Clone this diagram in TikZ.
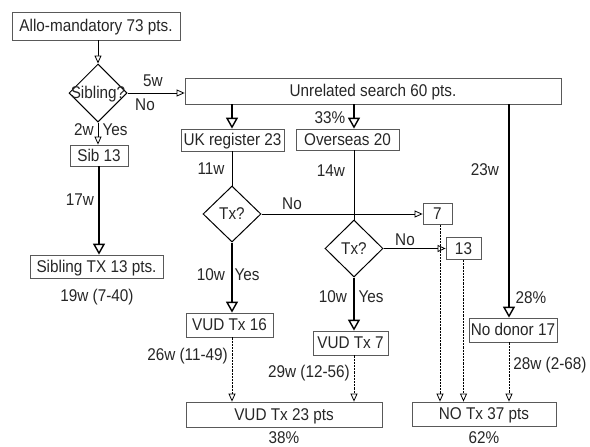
\documentclass[tikz,border=0pt]{standalone}
\usepackage{fontspec}
\setmainfont{Liberation Sans}[FakeStretch=0.9]
\usetikzlibrary{arrows.meta,shapes.geometric}
\begin{document}
\begin{tikzpicture}[x=1pt,y=-1pt,
  font=\fontsize{17}{18}\selectfont,
  every node/.style={text=black!85},
  box/.style={draw=black!65, line width=0.8pt, inner sep=0pt, text height=12pt, text depth=1pt},
  dia/.style={draw=black, line width=1pt, diamond, inner sep=0pt, aspect=1},
  lab/.style={inner sep=0pt, text height=12pt, text depth=1pt},
  thinar/.style={line width=0.9pt, -{Triangle[length=8pt,width=7pt,fill=white,line width=0.8pt]}},
  plainln/.style={line width=0.9pt},
  thickar/.style={line width=2.8pt, -{Triangle[length=11pt,width=12pt,fill=white,line width=1.4pt]}},
  dashar/.style={line width=0.8pt, dash pattern=on 2.2pt off 1pt, -{Triangle[length=8pt,width=7pt,fill=white,line width=0.8pt,sep=0pt]}}
]
\useasboundingbox (0,0) rectangle (590,447);
% boxes
\node[box, minimum width=168, minimum height=28] (allo) at (96,26) {Allo-mandatory 73 pts.};
\node[dia, minimum width=58, minimum height=58, label={[lab]center:Sibling?}] (sib) at (98,93) {};
\node[box, minimum width=376, minimum height=26] (unrel) at (373,91) {Unrelated search 60 pts.};
\node[box, minimum width=58, minimum height=21] (sib13) at (99,155.5) {Sib 13};
\node[box, minimum width=133, minimum height=23] (sibtx) at (96.5,266.5) {Sibling TX 13 pts.};
\node[box, minimum width=103, minimum height=22] (uk) at (232.5,140) {UK register 23};
\node[box, minimum width=103, minimum height=21] (over) at (347.5,139.5) {Overseas 20};
\node[dia, minimum width=58, minimum height=56, label={[lab]center:Tx?}] (tx1) at (232,214) {};
\node[dia, minimum width=58, minimum height=57, label={[lab]center:Tx?}] (tx2) at (354,248.5) {};
\node[box, minimum width=29, minimum height=21] (b7) at (437.5,214) {7};
\node[box, minimum width=35, minimum height=22] (b13) at (463.5,248.5) {13};
\node[box, minimum width=87, minimum height=24] (vud16) at (229.5,325) {VUD Tx 16};
\node[box, minimum width=75, minimum height=24] (vud7) at (350.5,343) {VUD Tx 7};
\node[box, minimum width=196, minimum height=25] (vud23) at (284,414.5) {VUD Tx 23 pts};
\node[box, minimum width=144, minimum height=24] (notx) at (484,414) {NO Tx 37 pts};
\node[box, minimum width=88, minimum height=24] (nod) at (513,330) {No donor 17};
\coordinate (cN) at (509,0);
% connectors
\draw[thinar] (allo.south -| sib.north) -- (sib.north);
\draw[thinar] (sib.east) -- (sib.east -| unrel.west);
\draw[thinar] (sib.south) -- (sib.south |- sib13.north);
\draw[thickar] (sib13.south) -- (sibtx.north -| sib13.south);
\draw[thickar] (unrel.south -| tx1.north) -- (uk.north -| tx1.north);
\draw[thickar] (unrel.south -| tx2.north) -- (over.north -| tx2.north);
\draw[plainln] (uk.south -| tx1.north) -- (tx1.north);
\draw[plainln] (over.south -| tx2.north) -- (tx2.north);
\draw[thinar] (tx1.east) -- (b7.west);
\draw[thinar] (tx2.east) -- (b13.west);
\draw[thickar] (tx1.south) -- (vud16.north -| tx1.south);
\draw[thickar] (tx2.south) -- (vud7.north -| tx2.south);
\draw[dashar] (vud16.south -| tx1.south) -- (vud23.north -| tx1.south);
\draw[dashar] (vud7.south -| tx2.south) -- (vud23.north -| tx2.south);
\draw[dashar] ([xshift=2.5pt]b7.south) -- ([xshift=2.5pt]b7.south |- notx.north);
\draw[dashar] (b13.south) -- (b13.south |- notx.north);
\draw[thickar] (unrel.south -| cN) -- (nod.north -| cN);
\draw[dashar] (nod.south -| cN) -- (notx.north -| cN);
% labels
\node[lab] (l5w) at (153,81) {5w};
\node[lab] (lno1) at (145,105) {No};
\node[lab] (l2w) at (84,130) {2w};
\node[lab] (lyes1) at (115,130) {Yes};
\node[lab] (l17w) at (80,200) {17w};
\node[lab] (l19w) at (97,296) {19w (7-40)};
\node[lab] (l33) at (330,118) {33\%};
\node[lab] (l11w) at (211,169) {11w};
\node[lab] (l14w) at (331,171) {14w};
\node[lab] (lno2) at (292,204) {No};
\node[lab] (lno3) at (405,240) {No};
\node[lab] (l23w) at (485,170) {23w};
\node[lab] (l28) at (531,298) {28\%};
\node[lab] (l10a) at (211,275) {10w};
\node[lab] (lyes2) at (247,275) {Yes};
\node[lab] (l10b) at (333,297) {10w};
\node[lab] (lyes3) at (371,297) {Yes};
\node[lab, anchor=east] (l26w) at (228,355) {26w (11-49)};
\node[lab] (l29w) at (309,372) {29w (12-56)};
\node[lab] (l28w) at (550,364) {28w (2-68)};
\node[lab, text depth=0pt, anchor=base] (l38) at (284,443.5) {38\%};
\node[lab, text depth=0pt, anchor=base] (l62) at (484,443.5) {62\%};
\end{tikzpicture}
\end{document}
